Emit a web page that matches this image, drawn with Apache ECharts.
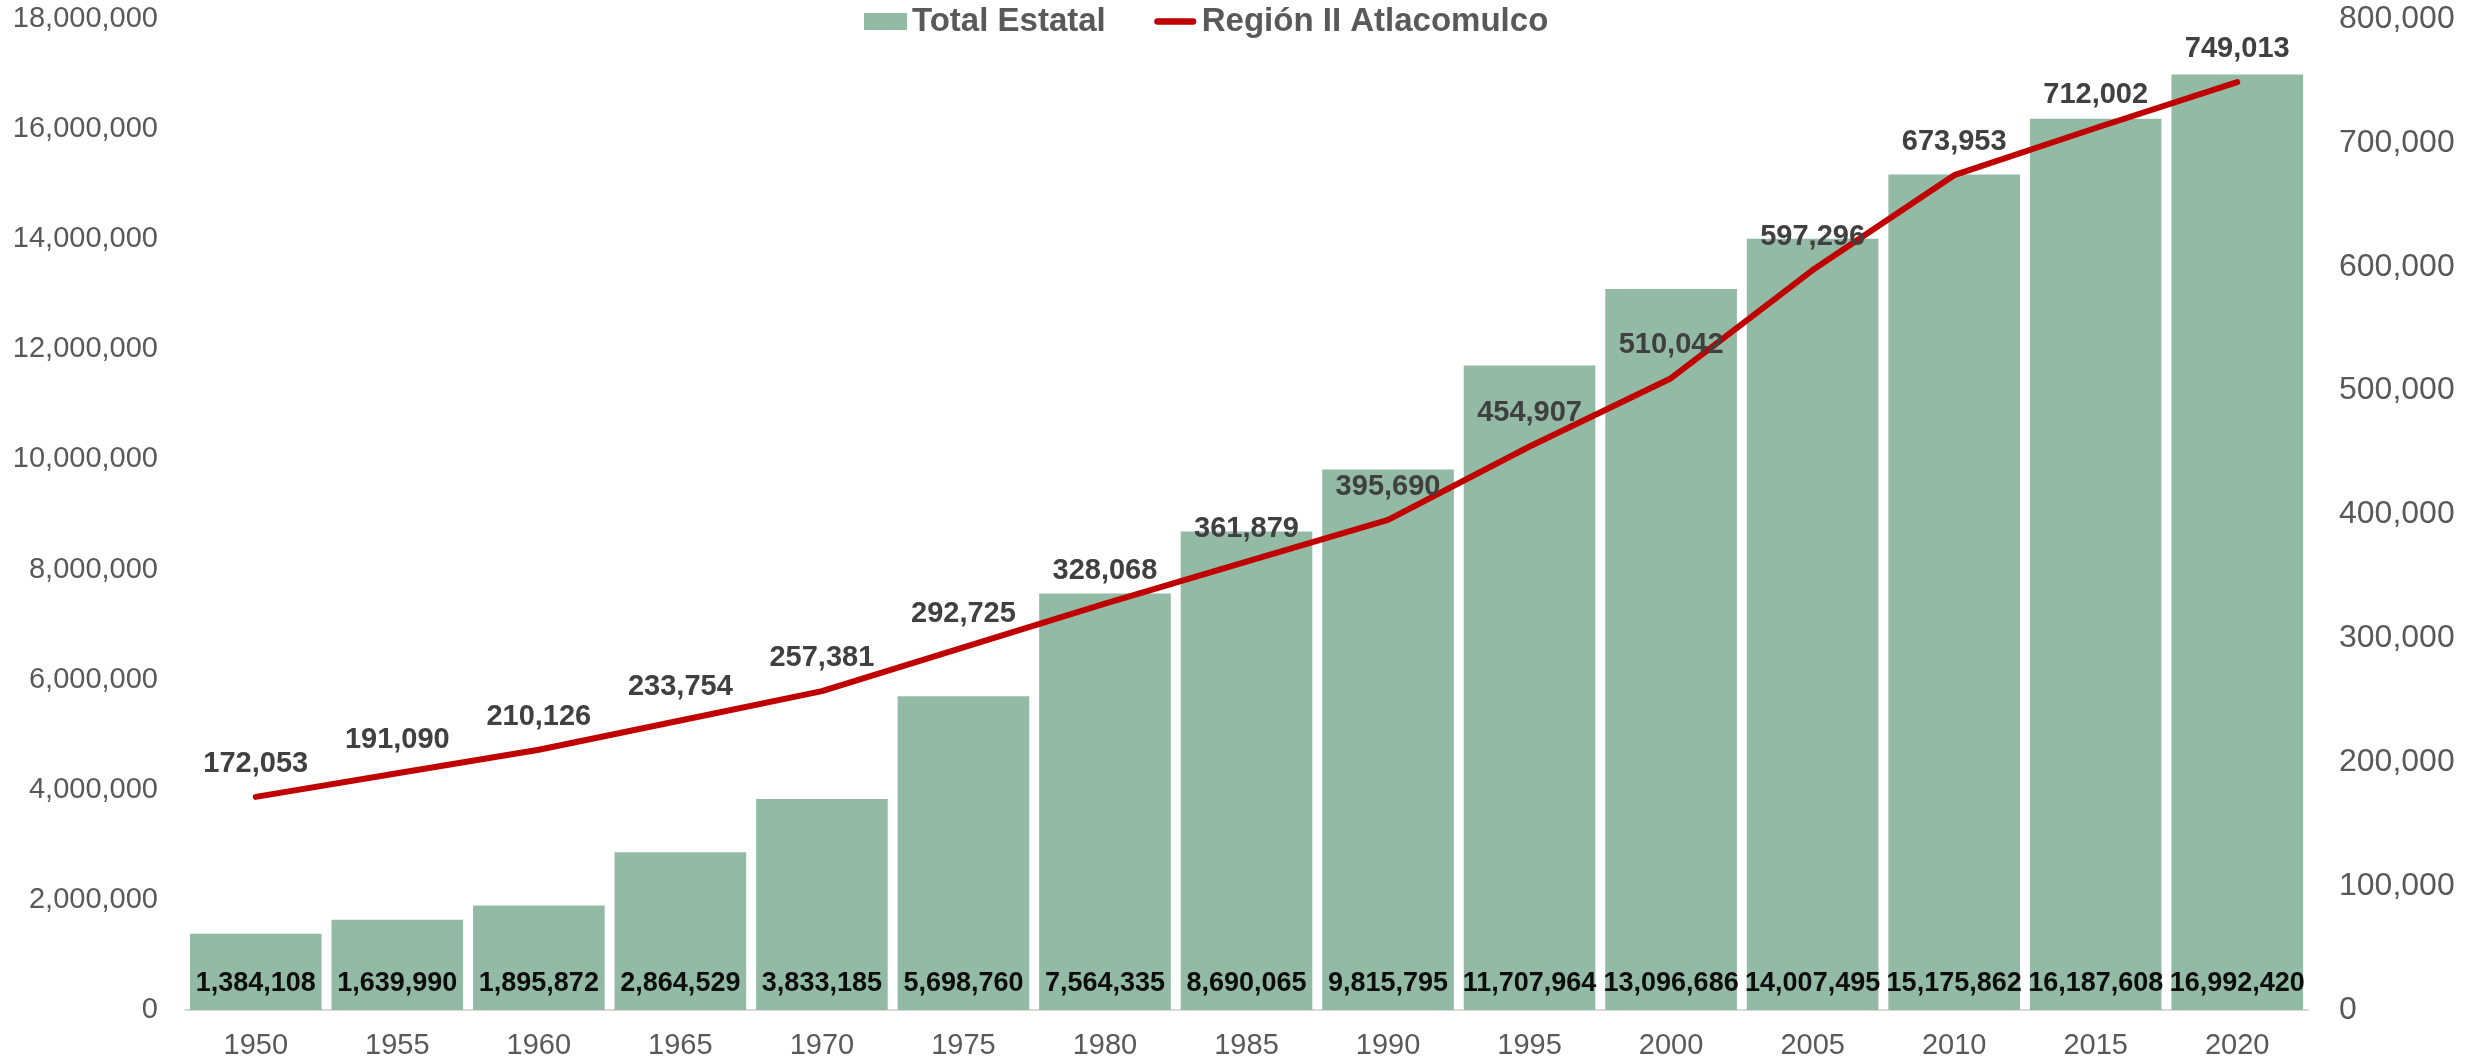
<!DOCTYPE html>
<html>
<head>
<meta charset="utf-8">
<script src="https://cdn.jsdelivr.net/npm/echarts@6/dist/echarts.min.js"></script>
<style>
html,body{margin:0;padding:0;background:#fff;}
#chart{width:2476px;height:1061px;}
</style>
</head>
<body>
<div id="chart"></div>
<script>
const years = ['1950','1955','1960','1965','1970','1975','1980','1985','1990','1995','2000','2005','2010','2015','2020'];
const totalEstatal = [1384108,1639990,1895872,2864529,3833185,5698760,7564335,8690065,9815795,11707964,13096686,14007495,15175862,16187608,16992420];
const regionII = [172053,191090,210126,233754,257381,292725,328068,361879,395690,454907,510042,597296,673953,712002,749013];
const seriesNames = ['Total Estatal','Región II Atlacomulco'];

const FONT = "'Liberation Sans', Arial, sans-serif";
const fmt = v => Number(v).toLocaleString('en-US');

const chart = echarts.init(document.getElementById('chart'));
chart.setOption({
  animation: false,
  backgroundColor: '#ffffff',
  textStyle: { fontFamily: FONT },
  legend: {
    left: 859, top: 0,
    itemGap: 48, itemWidth: 43, itemHeight: 17,
    textStyle: { fontFamily: FONT, fontSize: 33, fontWeight: 'bold', color: '#595959' },
    data: [
      { name: seriesNames[0], icon: 'rect' },
      { name: seriesNames[1], icon: 'path://M0,0 L0,0 M4,5 L42,5 A3.5,3.5 0 0 1 42,12 L4,12 A3.5,3.5 0 0 1 4,5 Z M46,17 L46,17', itemStyle: { color: '#C00000' } }
    ]
  },
  grid: { left: 185, right: 168, top: 19, bottom: 51, containLabel: false },
  xAxis: {
    type: 'category',
    data: years,
    axisLine: { show: true, lineStyle: { color: '#D9D9D9', width: 2 } },
    axisTick: { show: false },
    axisLabel: { margin: 21, fontFamily: FONT, fontSize: 29, color: '#595959', lineHeight: 29 },
    splitLine: { show: false }
  },
  yAxis: [
    {
      type: 'value', min: 0, max: 18000000, interval: 2000000,
      axisLine: { show: false }, axisTick: { show: false }, splitLine: { show: false },
      axisLabel: { margin: 27, fontFamily: FONT, fontSize: 29, color: '#595959', formatter: fmt }
    },
    {
      type: 'value', min: 0, max: 800000, interval: 100000,
      axisLine: { show: false }, axisTick: { show: false }, splitLine: { show: false },
      axisLabel: { margin: 31, fontFamily: FONT, fontSize: 32, color: '#595959', formatter: fmt }
    }
  ],
  series: [
    {
      name: seriesNames[0],
      type: 'bar',
      yAxisIndex: 0,
      data: totalEstatal,
      barCategoryGap: '7%',
      itemStyle: { color: '#93BAA5' },
      label: {
        show: true, position: 'insideBottom', distance: 13,
        fontFamily: FONT, fontSize: 27, fontWeight: 'bold', color: '#0d0d0d',
        formatter: p => fmt(p.value)
      },
      z: 2
    },
    {
      name: seriesNames[1],
      type: 'line',
      yAxisIndex: 1,
      data: regionII,
      symbol: 'circle',
      symbolSize: 1,
      showSymbol: true,
      lineStyle: { color: '#C00000', width: 6, cap: 'round', join: 'round' },
      itemStyle: { color: '#C00000' },
      label: {
        show: true, position: 'top', distance: 18,
        fontFamily: FONT, fontSize: 29, fontWeight: 'bold', color: '#404040',
        formatter: p => fmt(p.value)
      },
      z: 5
    }
  ]
});
</script>
</body>
</html>
